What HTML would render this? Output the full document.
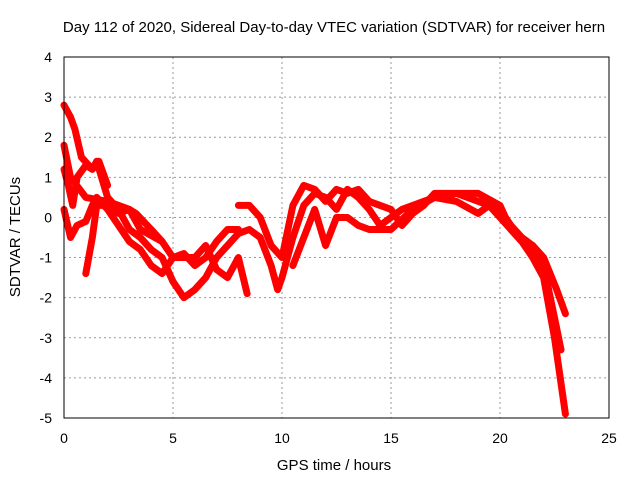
<!DOCTYPE html>
<html><head><meta charset="utf-8"><style>
body{margin:0;background:#fff;}
svg{display:block;font-family:"Liberation Sans",sans-serif;}
</style></head><body>
<svg id="chart" width="640" height="480">
<text x="334" y="32" font-size="15" text-anchor="middle" fill="#000">Day 112 of 2020, Sidereal Day-to-day VTEC variation (SDTVAR) for receiver hern</text>
<text x="334" y="470" font-size="15" text-anchor="middle">GPS time / hours</text>
<text transform="translate(20,237) rotate(-90)" font-size="15" text-anchor="middle">SDTVAR / TECUs</text>
<g id="grid"></g><g id="ticks"></g><g id="series"></g>
<rect x="64" y="57" width="545" height="361" fill="none" stroke="#000" stroke-width="1"/>
</svg>
<script>
const xTicks=[0,5,10,15,20,25];
const yTicks=[4,3,2,1,0,-1,-2,-3,-4,-5];
const trackAx=[0,0.3,0.5,0.8,1.3,1.5,2,2.5,3,3.5,4,4.5,5,5.5,6,6.5,7,7.5,8,8.5,9,9.5,9.8,10,10.5,11,11.5,12,12.5,13,13.5,14,14.5,15,15.5,16,17,18,19,20,20.5,21,21.5,22,22.5,22.8];
const trackAy=[2.8,2.5,2.2,1.5,1.2,1.4,0.5,0.2,-0.3,-0.5,-0.8,-1.0,-1.6,-2.0,-1.8,-1.5,-1.0,-0.7,-0.4,-0.3,-0.5,-1.2,-1.8,-1.5,-0.5,0.3,0.6,0.5,0.2,0.7,0.5,0.2,-0.2,0,0.2,0.3,0.5,0.6,0.4,0.2,-0.2,-0.5,-0.7,-1.2,-2.5,-3.3];
const trackBx=[0,0.3,1,2,3,3.3,4,4.5,5,6,6.5,7,7.5,8,8.4];
const trackBy=[1.8,1.0,0.5,0.4,0.2,0.1,-0.3,-0.6,-1.0,-1.0,-0.7,-1.3,-1.5,-1.0,-1.9];
const trackCx=[0,0.3,0.6,1,1.3,1.5,2,2.5,3,3.5,4,4.5,5,5.5,6,6.5,7,7.5,8];
const trackCy=[0.2,-0.5,-0.2,-0.1,0.3,0.5,0.2,-0.2,-0.6,-0.8,-1.2,-1.4,-1.0,-0.9,-1.2,-1.0,-0.6,-0.3,-0.3];
const trackDx=[1,1.3,1.5,2,2.5,3,3.5,4.5];
const trackDy=[-1.4,-0.5,0.3,0.3,0.1,0.2,-0.3,-0.6];
const trackEx=[8,8.5,9,9.5,10,10.5,11,11.5,12,12.5,13,13.5,14,14.5,15,15.5,16,16.5,17,18,19,20,20.5,21,21.5,22,22.5,23];
const trackEy=[0.3,0.3,0,-0.7,-1.0,0.3,0.8,0.7,0.4,0.7,0.6,0.7,0.4,0.3,0.2,-0.2,0.1,0.3,0.6,0.6,0.6,0.3,-0.3,-0.6,-1.0,-1.5,-3.0,-4.9];
const trackFx=[10.5,11,11.5,12,12.5,13,13.5,14,15,16,17,18,19,19.5,20,21,21.5,22,22.6,23];
const trackFy=[-1.2,-0.5,0.2,-0.7,0,0,-0.2,-0.3,-0.3,0.2,0.5,0.4,0.1,0.3,0,-0.6,-0.7,-1.0,-1.8,-2.4];
const trackGx=[0,0.2,0.4,0.6,1,1.3,1.6,2];
const trackGy=[1.2,0.8,0.3,1.0,1.3,1.2,1.4,0.8];
const X=v=>64+v*545/25, Y=v=>57+(4-v)*361/9;
const NS="http://www.w3.org/2000/svg";
const grid=document.getElementById('grid'),ticks=document.getElementById('ticks'),ser=document.getElementById('series');
xTicks.forEach(t=>{
 if(t>0&&t<25){const l=document.createElementNS(NS,'line');
 l.setAttribute('x1',X(t));l.setAttribute('x2',X(t));l.setAttribute('y1',57);l.setAttribute('y2',418);
 l.setAttribute('stroke','#999');l.setAttribute('stroke-dasharray','2,3');
 
 
 grid.appendChild(l);}
 const tx=document.createElementNS(NS,'text');
 tx.setAttribute('x',X(t));tx.setAttribute('y',443);tx.setAttribute('font-size','14');tx.setAttribute('text-anchor','middle');
 tx.textContent=t;
 
 
 ticks.appendChild(tx);
});
yTicks.forEach(t=>{
 if(t<4&&t>-5){const l=document.createElementNS(NS,'line');
 l.setAttribute('x1',64);l.setAttribute('x2',609);l.setAttribute('y1',Y(t));l.setAttribute('y2',Y(t));
 l.setAttribute('stroke','#999');l.setAttribute('stroke-dasharray','2,3');
 
 
 grid.appendChild(l);}
 const tx=document.createElementNS(NS,'text');
 tx.setAttribute('x',52);tx.setAttribute('y',Y(t)+5);tx.setAttribute('font-size','14');tx.setAttribute('text-anchor','end');
 tx.textContent=t;
 
 
 ticks.appendChild(tx);
});
[[trackAx,trackAy],[trackBx,trackBy],[trackCx,trackCy],[trackDx,trackDy],[trackEx,trackEy],[trackFx,trackFy],[trackGx,trackGy]].forEach((s,i)=>{
 const p=document.createElementNS(NS,'polyline');
 p.setAttribute('points',s[0].map((x,j)=>X(x)+','+Y(s[1][j])).join(' '));
 p.setAttribute('fill','none');p.setAttribute('stroke','#ff0000');p.setAttribute('stroke-width','7');
 p.setAttribute('stroke-linejoin','round');p.setAttribute('stroke-linecap','round');
 
 
 ser.appendChild(p);
});
</script>
</body></html>
